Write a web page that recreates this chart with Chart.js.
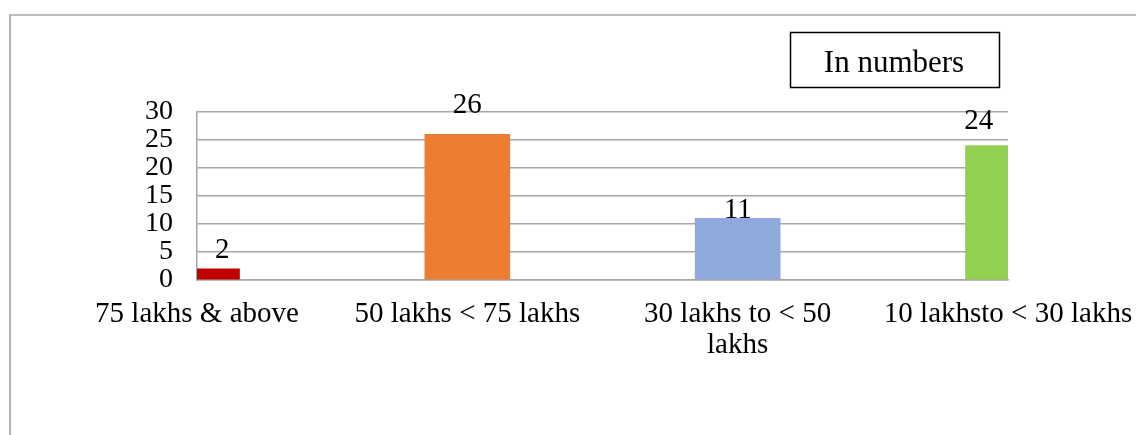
<!DOCTYPE html>
<html>
<head>
<meta charset="utf-8">
<script src="https://cdn.jsdelivr.net/npm/chart.js@4/dist/chart.umd.min.js"></script>
<style>
  html, body { margin: 0; padding: 0; background: #fff; }
  #wrap { width: 1136px; height: 435px; position: relative; }
</style>
</head>
<body>
<div id="wrap"><canvas id="barChart" width="1136" height="435"></canvas></div>
<script>
// values
const categories = ['75 lakhs & above', '50 lakhs < 75 lakhs', ['30 lakhs to < 50', 'lakhs'], '10 lakhsto < 30 lakhs'];
const counts = [2, 26, 11, 24];
const barColors = ['#C00000', '#ED7D31', '#8EA9DB', '#92D050'];
const yTicks = [0, 5, 10, 15, 20, 25, 30];
const boxTitle = 'In numbers';

// labels sit a little above the bars, by different amounts as in the original
const labelLift = [11, 21, 0, 17];
const labelShift = [4, 0, 0, -8];

const SERIF = '"Liberation Serif", "Times New Roman", serif';

// outer frame (top + left edge only) and the "In numbers" box
const frameAndBox = {
    id: 'frameAndBox',
    afterDraw(chart) {
        const ctx = chart.ctx;
        ctx.save();
        ctx.strokeStyle = '#a6a6a6';
        ctx.lineWidth = 1.7;
        ctx.beginPath();
        ctx.moveTo(10, 435);
        ctx.lineTo(10, 15);
        ctx.lineTo(1136, 15);
        ctx.stroke();

        ctx.strokeStyle = '#000';
        ctx.lineWidth = 1.5;
        ctx.strokeRect(790.5, 32.5, 209, 55);
        ctx.fillStyle = '#000';
        ctx.font = '31px ' + SERIF;
        ctx.textAlign = 'center';
        ctx.textBaseline = 'alphabetic';
        ctx.fillText(boxTitle, 894, 72);
        ctx.restore();
    }
};

// value labels centred over the visible (clipped) part of each bar
const valueLabels = {
    id: 'valueLabels',
    afterDatasetsDraw(chart) {
        const {ctx, chartArea} = chart;
        const meta = chart.getDatasetMeta(0);
        ctx.save();
        ctx.fillStyle = '#000';
        ctx.font = '29px ' + SERIF;
        ctx.textAlign = 'center';
        ctx.textBaseline = 'alphabetic';
        meta.data.forEach((bar, i) => {
            const left = Math.max(bar.x - bar.width / 2, chartArea.left);
            const right = Math.min(bar.x + bar.width / 2, chartArea.right);
            const x = (left + right) / 2 + labelShift[i];
            ctx.fillText(String(counts[i]), x, bar.y - labelLift[i]);
        });
        ctx.restore();
    }
};

new Chart(document.getElementById('barChart'), {
    type: 'bar',
    data: {
        labels: categories,
        datasets: [{
            data: counts,
            backgroundColor: barColors,
            borderWidth: 0,
            barThickness: 85
        }]
    },
    options: {
        responsive: false,
        animation: false,
        devicePixelRatio: 1,
        layout: { padding: { top: 112, right: 128, left: 0, bottom: 0 } },
        plugins: {
            legend: { display: false },
            tooltip: { enabled: false }
        },
        scales: {
            x: {
                offset: false,
                grid: { display: false, drawTicks: false },
                border: { display: true, color: '#a6a6a6', width: 1.5 },
                ticks: {
                    color: '#000',
                    font: { family: SERIF, size: 29, lineHeight: 1.1 },
                    padding: 18,
                    maxRotation: 0,
                    autoSkip: false
                },
                afterFit(scale) {
                    scale.height = 155;
                    // the end labels may hang past the plot, as in the original
                    scale.paddingLeft = 0;
                    scale.paddingRight = 0;
                }
            },
            y: {
                min: 0,
                max: 30,
                afterBuildTicks(scale) { scale.ticks = yTicks.map(v => ({ value: v })); },
                grid: { color: '#a6a6a6', lineWidth: 1.5, drawTicks: false },
                border: { display: true, color: '#a6a6a6', width: 1.5 },
                ticks: {
                    color: '#000',
                    font: { family: SERIF, size: 28 },
                    padding: 24,
                    autoSkip: false
                },
                afterFit(scale) {
                    scale.width = 197;
                    scale.paddingTop = 0;
                    scale.paddingBottom = 0;
                }
            }
        }
    },
    plugins: [valueLabels, frameAndBox]
});
</script>
</body>
</html>
